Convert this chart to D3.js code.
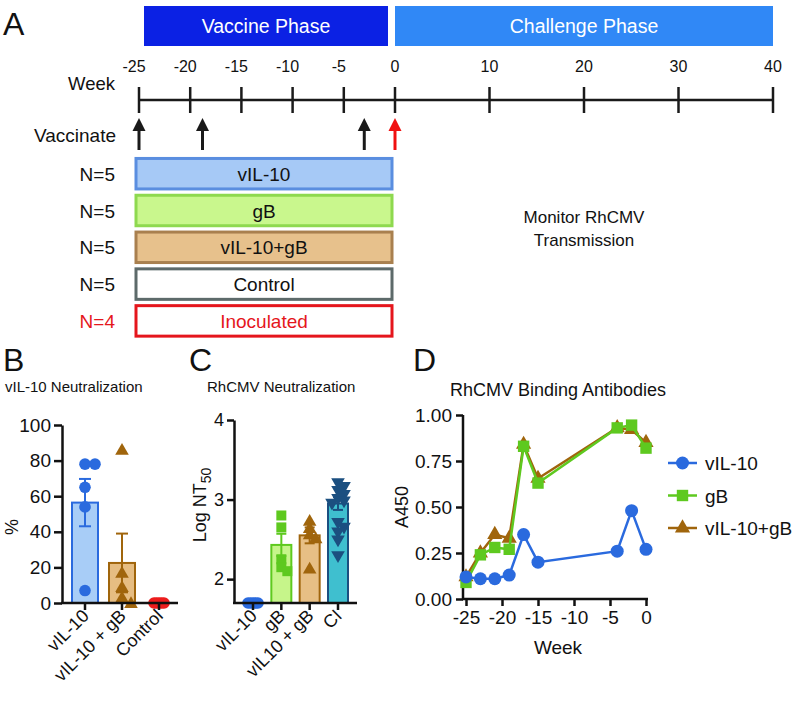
<!DOCTYPE html>
<html><head><meta charset="utf-8">
<script src="https://cdn.jsdelivr.net/npm/d3@7"></script>
<style>
body{margin:0;background:#fff}
svg{display:block}
text{font-family:"Liberation Sans",Arial,Helvetica,sans-serif;fill:#111}
</style>
</head><body>
<svg id="fig" width="796" height="705"></svg>
<script>
// ---------- DATA ----------
// Panel A
const phases = ["Vaccine Phase", "Challenge Phase"];
const vaccineWeeks = [-25, -20, -15, -10, -5, 0];
const challengeWeeks = [0, 10, 20, 30, 40];
const vaccinationWeeks = [-25, -18.8, -3];
const inoculationWeeks = [0];
const groups = ["vIL-10", "gB", "vIL-10+gB", "Control", "Inoculated"];
const groupN = [5, 5, 5, 5, 4];
const monitorText = ["Monitor RhCMV", "Transmission"];

// Panel B
const bCategories = ["vIL-10", "vIL-10 + gB", "Control"];
const bMeans = [56.4, 22.5, 0];
const bSem = [13.3, 16.5, 0];
const bPoints = [[78, 78, 65, 54, 7], [86, 17, 9, 3, 0], [0, 0, 0, 0, 0]];
const bTicks = [0, 20, 40, 60, 80, 100];

// Panel C
const cCategories = ["vIL-10", "gB", "vIL10 + gB", "CI"];
const cMeans = [1.7, 2.43, 2.55, 2.95];
const cSem = [0, 0.14, 0.1, 0.08];
const cPoints = [
  [1.7, 1.7, 1.7, 1.7, 1.7],
  [2.8, 2.65, 2.25, 2.15, 2.1],
  [2.72, 2.63, 2.55, 2.5, 2.12],
  [3.22, 3.17, 3.12, 3.07, 3.02, 2.99, 2.96, 2.72, 2.66, 2.6, 2.5, 2.3]
];
const cTicks = [2, 3, 4];

// Panel D
const dWeeks = [-25, -23, -21, -19, -17, -15, -4, -2, 0];
const dSeriesNames = ["vIL-10", "gB", "vIL-10+gB"];
const dVIL10 = [0.12, 0.11, 0.11, 0.13, 0.35, 0.20, 0.26, 0.48, 0.27];
const dGB = [0.09, 0.24, 0.28, 0.27, 0.83, 0.63, 0.93, 0.945, 0.82];
const dVIL10gB = [0.12, 0.25, 0.35, 0.33, 0.84, 0.655, 0.93, 0.92, 0.85];
const dYTicks = [0, 0.25, 0.5, 0.75, 1];
const dXTicks = [-25, -20, -15, -10, -5, 0];

// ---------- STYLE ----------
const BLUE = "#2a6ade", GREEN = "#5ec91f", BROWN = "#a0650c", RED = "#ec1c1c", NAVY = "#1b4f80";
const FONT = '"Liberation Sans",Arial,Helvetica,sans-serif';
const svg = d3.select("#fig");
const neg = d => d < 0 ? "-" + Math.abs(d) : String(d);

function letter(t, x, y) {
  svg.append("text").attr("x", x).attr("y", y).attr("font-size", 32).text(t);
}
function dodge(vals, yScale, cx, minDist) {
  const placed = [], out = new Array(vals.length);
  const order = vals.map((v, i) => i).sort((a, b) => vals[b] - vals[a]);
  for (const i of order) {
    const y = yScale(vals[i]);
    let x = cx;
    for (let k = 0; k < 40; k++) {
      const off = k === 0 ? 0 : (k % 2 ? 1 : -1) * Math.ceil(k / 2) * minDist;
      x = cx + off;
      if (placed.every(p => Math.hypot(p[0] - x, p[1] - y) >= minDist - 0.01)) break;
    }
    placed.push([x, y]); out[i] = [x, y];
  }
  return out;
}
const sym = (type, size) => d3.symbol().type(type).size(size)();
function styleAxis(a, fs) {
  a.selectAll("text").attr("font-size", fs).style("font-family", FONT).attr("fill", "#111");
  a.selectAll("line,path").attr("stroke", "#111").attr("stroke-width", 2.5);
}

// ---------- PANEL A ----------
letter("A", 3, 35);
const xV = d3.scaleLinear([-25, 0], [139, 395]);
const xCh = d3.scaleLinear([0, 40], [395, 773]);

const phaseExt = [[xV(-25) + 5, xV(0) - 7], [xCh(0), xCh(40)]];
const phaseCol = ["#0b21e4", "#3088f6"];
phases.forEach((p, i) => {
  svg.append("rect").attr("x", phaseExt[i][0]).attr("y", 6)
    .attr("width", phaseExt[i][1] - phaseExt[i][0]).attr("height", 40).attr("fill", phaseCol[i]);
  svg.append("text").attr("x", (phaseExt[i][0] + phaseExt[i][1]) / 2).attr("y", 33)
    .attr("text-anchor", "middle").attr("font-size", 19.5).style("fill", "#fff").text(p);
});

const tl = svg.append("g");
tl.append("line").attr("x1", xV(-25)).attr("x2", xCh(40)).attr("y1", 100).attr("y2", 100)
  .attr("stroke", "#1a1a1a").attr("stroke-width", 2.5);
const tickXs = vaccineWeeks.map(w => ({ x: xV(w), t: w })).concat(challengeWeeks.slice(1).map(w => ({ x: xCh(w), t: w })));
tickXs.forEach(d => {
  tl.append("line").attr("x1", d.x).attr("x2", d.x).attr("y1", 87).attr("y2", 113)
    .attr("stroke", "#1a1a1a").attr("stroke-width", 2.5);
  tl.append("text").attr("x", d.x + (d.t < 0 ? -5 : 0)).attr("y", 72).attr("text-anchor", "middle").attr("font-size", 16)
    .text(neg(d.t));
});
svg.append("text").attr("x", 115).attr("y", 90).attr("text-anchor", "end").attr("font-size", 18.5).text("Week");
svg.append("text").attr("x", 116).attr("y", 142).attr("text-anchor", "end").attr("font-size", 19).text("Vaccinate");

function arrow(x, col) {
  svg.append("line").attr("x1", x).attr("x2", x).attr("y1", 150).attr("y2", 126)
    .attr("stroke", col).attr("stroke-width", 3);
  svg.append("path").attr("d", `M${x},118 L${x - 6.5},131 L${x + 6.5},131 Z`).attr("fill", col);
}
vaccinationWeeks.forEach(w => arrow(xV(w), "#1a1a1a"));
inoculationWeeks.forEach(w => arrow(xV(w), "#f01010"));

const yG = d3.scaleBand(groups, [155.3, 339.3]).paddingInner(0.09).paddingOuter(0.045);
const gFill = ["#a6c9f6", "#c9f78d", "#e7c18c", "#ffffff", "#ffffff"];
const gStroke = ["#5a8ee0", "#8ed94f", "#a9804f", "#5d6a6a", "#e5161c"];
const gText = ["#111", "#111", "#111", "#111", "#e5161c"];
groups.forEach((g, i) => {
  const y = yG(g), h = yG.bandwidth();
  svg.append("rect").attr("x", 136).attr("y", y + 1.5).attr("width", 256).attr("height", h - 3)
    .attr("fill", gFill[i]).attr("stroke", gStroke[i]).attr("stroke-width", 3);
  svg.append("text").attr("x", 264).attr("y", y + h / 2 + 7).attr("text-anchor", "middle")
    .attr("font-size", 19).style("fill", gText[i]).text(g);
  svg.append("text").attr("x", 115).attr("y", y + h / 2 + 7).attr("text-anchor", "end")
    .attr("font-size", 19).style("fill", gText[i]).text("N=" + groupN[i]);
});
monitorText.forEach((t, i) => {
  svg.append("text").attr("x", 584).attr("y", 223 + i * 23).attr("text-anchor", "middle")
    .attr("font-size", 17).text(t);
});

// ---------- PANEL B ----------
letter("B", 3, 371);
svg.append("text").attr("x", 5).attr("y", 392).attr("font-size", 15).text("vIL-10 Neutralization");
const yB = d3.scaleLinear([0, 100], [603, 425]);
const xB = d3.scalePoint(bCategories, [85, 159]);
const gB = svg.append("g");
const bFill = ["#a8cdf7", "#e6bd82", "none"], bStroke = [BLUE, BROWN, RED];
bCategories.forEach((c, i) => {
  if (bMeans[i] > 0) {
    gB.append("rect").attr("x", xB(c) - 13).attr("y", yB(bMeans[i])).attr("width", 26)
      .attr("height", yB(0) - yB(bMeans[i])).attr("fill", bFill[i]).attr("stroke", bStroke[i]).attr("stroke-width", 2);
  }
});
bCategories.forEach((c, i) => {
  const pts = dodge(bPoints[i], yB, xB(c), i === 0 ? 10 : (i === 1 ? 9 : 2.5));
  pts.forEach(p => {
    if (i === 1) gB.append("path").attr("d", sym(d3.symbolTriangle, 80)).attr("transform", `translate(${p[0]},${p[1] + 1})`).attr("fill", BROWN);
    else gB.append("circle").attr("cx", p[0]).attr("cy", p[1]).attr("r", 5.8).attr("fill", i === 0 ? BLUE : RED);
  });
});
bCategories.forEach((c, i) => {
  if (bSem[i] > 0) {
    const x = xB(c), lo = yB(Math.max(0, bMeans[i] - bSem[i])), hi = yB(bMeans[i] + bSem[i]);
    gB.append("line").attr("x1", x).attr("x2", x).attr("y1", lo).attr("y2", hi).attr("stroke", bStroke[i]).attr("stroke-width", 2);
    [lo, hi].forEach(y => gB.append("line").attr("x1", x - 6).attr("x2", x + 6).attr("y1", y).attr("y2", y).attr("stroke", bStroke[i]).attr("stroke-width", 2));
  }
});
const axB = svg.append("g").attr("transform", "translate(62,0)")
  .call(d3.axisLeft(yB).tickValues(bTicks).tickFormat(d3.format("d")).tickSize(8).tickPadding(3).tickSizeOuter(0));
styleAxis(axB, 19);
svg.append("line").attr("x1", 61).attr("x2", 178).attr("y1", 603).attr("y2", 603).attr("stroke", "#111").attr("stroke-width", 2.5);
bCategories.forEach(c => {
  svg.append("line").attr("x1", xB(c)).attr("x2", xB(c)).attr("y1", 603).attr("y2", 610).attr("stroke", "#111").attr("stroke-width", 2.5);
  svg.append("text").attr("transform", `translate(${xB(c) + 5},${617}) rotate(-45)`).attr("text-anchor", "end")
    .attr("font-size", 18).text(c);
});
svg.append("text").attr("transform", "translate(18,527) rotate(-90)").attr("text-anchor", "middle").attr("font-size", 18).text("%");

// ---------- PANEL C ----------
letter("C", 189, 371);
svg.append("text").attr("x", 207).attr("y", 392).attr("font-size", 15).text("RhCMV Neutralization");
const yC = d3.scaleLinear([1.7, 4], [603, 420]);
const xC = d3.scalePoint(cCategories, [253, 338]);
const gC = svg.append("g");
const cFill = ["none", "#c6f58a", "#e7bf85", "#3fbfcf"], cStroke = [BLUE, GREEN, BROWN, NAVY];
cCategories.forEach((c, i) => {
  if (cMeans[i] > 1.7) {
    gC.append("rect").attr("x", xC(c) - 10).attr("y", yC(cMeans[i])).attr("width", 20)
      .attr("height", yC(1.7) - yC(cMeans[i])).attr("fill", cFill[i]).attr("stroke", cStroke[i]).attr("stroke-width", 2);
  }
});
cCategories.forEach((c, i) => {
  const pts = dodge(cPoints[i], yC, xC(c), i === 0 ? 2.5 : 6);
  pts.forEach(p => {
    const t = `translate(${p[0]},${p[1]})`;
    if (i === 0) gC.append("circle").attr("cx", p[0]).attr("cy", p[1]).attr("r", 5.8).attr("fill", BLUE);
    else if (i === 1) gC.append("path").attr("d", sym(d3.symbolSquare, 100)).attr("transform", t).attr("fill", GREEN);
    else if (i === 2) gC.append("path").attr("d", sym(d3.symbolTriangle, 80)).attr("transform", t).attr("fill", BROWN);
    else gC.append("path").attr("d", sym(d3.symbolTriangle, 80)).attr("transform", t + " rotate(180)").attr("fill", NAVY);
  });
});
cCategories.forEach((c, i) => {
  if (cSem[i] > 0) {
    const x = xC(c), lo = yC(cMeans[i] - cSem[i]), hi = yC(cMeans[i] + cSem[i]);
    gC.append("line").attr("x1", x).attr("x2", x).attr("y1", lo).attr("y2", hi).attr("stroke", cStroke[i]).attr("stroke-width", 2);
    [lo, hi].forEach(y => gC.append("line").attr("x1", x - 5).attr("x2", x + 5).attr("y1", y).attr("y2", y).attr("stroke", cStroke[i]).attr("stroke-width", 2));
  }
});
const axC = svg.append("g").attr("transform", "translate(234,0)")
  .call(d3.axisLeft(yC).tickValues(cTicks).tickFormat(d3.format("d")).tickSize(7).tickPadding(3).tickSizeOuter(0));
styleAxis(axC, 18);
svg.append("line").attr("x1", 233).attr("x2", 357).attr("y1", 603).attr("y2", 603).attr("stroke", "#111").attr("stroke-width", 2.5);
cCategories.forEach(c => {
  svg.append("line").attr("x1", xC(c)).attr("x2", xC(c)).attr("y1", 603).attr("y2", 610).attr("stroke", "#111").attr("stroke-width", 2.5);
  svg.append("text").attr("transform", `translate(${xC(c) + 5},${617}) rotate(-45)`).attr("text-anchor", "end")
    .attr("font-size", 18).text(c);
});
const cl = svg.append("text").attr("transform", "translate(206,505) rotate(-90)").attr("text-anchor", "middle").attr("font-size", 18);
cl.append("tspan").text("Log NT");
cl.append("tspan").attr("font-size", 14).attr("dy", 5).text("50");

// ---------- PANEL D ----------
letter("D", 413, 371);
svg.append("text").attr("x", 558).attr("y", 396).attr("text-anchor", "middle").attr("font-size", 18).text("RhCMV Binding Antibodies");
const xD = d3.scaleLinear([-25, 0], [466, 646]);
const yD = d3.scaleLinear([0, 1], [599, 415]);
const axDy = svg.append("g").attr("transform", "translate(463,0)")
  .call(d3.axisLeft(yD).tickValues(dYTicks).tickFormat(d3.format(".2f")).tickSize(7).tickPadding(4).tickSizeOuter(0));
const axDx = svg.append("g").attr("transform", "translate(0,599)")
  .call(d3.axisBottom(xD).tickValues(dXTicks).tickFormat(neg).tickSize(7).tickPadding(5).tickSizeOuter(0));
[axDy, axDx].forEach(a => { styleAxis(a, 19); a.select(".domain").remove(); });
svg.append("line").attr("x1", 463).attr("x2", 463).attr("y1", yD(1)).attr("y2", 600).attr("stroke", "#111").attr("stroke-width", 2.5);
svg.append("line").attr("x1", 462).attr("x2", 648).attr("y1", 599).attr("y2", 599).attr("stroke", "#111").attr("stroke-width", 2.5);
svg.append("text").attr("x", 558).attr("y", 654).attr("text-anchor", "middle").attr("font-size", 19).text("Week");
svg.append("text").attr("transform", "translate(408,507) rotate(-90)").attr("text-anchor", "middle").attr("font-size", 18).text("A450");

const dData = [dVIL10, dGB, dVIL10gB];
const dCol = [BLUE, GREEN, BROWN];
const marker = (g, i, x, y) => {
  if (i === 0) g.append("circle").attr("cx", x).attr("cy", y).attr("r", 6.5).attr("fill", dCol[0]);
  else if (i === 1) g.append("path").attr("d", sym(d3.symbolSquare, 130)).attr("transform", `translate(${x},${y})`).attr("fill", dCol[1]);
  else g.append("path").attr("d", sym(d3.symbolTriangle, 100)).attr("transform", `translate(${x},${y})`).attr("fill", dCol[2]);
};
const line = d3.line().x(d => xD(d[0])).y(d => yD(d[1]));
[2, 1, 0].forEach(i => {
  const g = svg.append("g");
  const pts = dWeeks.map((w, j) => [w, dData[i][j]]);
  g.append("path").attr("d", line(pts)).attr("fill", "none").attr("stroke", dCol[i]).attr("stroke-width", 2.5);
  pts.forEach(p => marker(g, i, xD(p[0]), yD(p[1])));
});
// legend
dSeriesNames.forEach((n, i) => {
  const y = 463 + i * 32.5;
  const g = svg.append("g");
  g.append("line").attr("x1", 668).attr("x2", 697).attr("y1", y).attr("y2", y).attr("stroke", dCol[i]).attr("stroke-width", 2.5);
  marker(g, i, 682.5, y);
  g.append("text").attr("x", 705).attr("y", y + 7).attr("font-size", 19).text(n);
});
</script>
</body></html>
